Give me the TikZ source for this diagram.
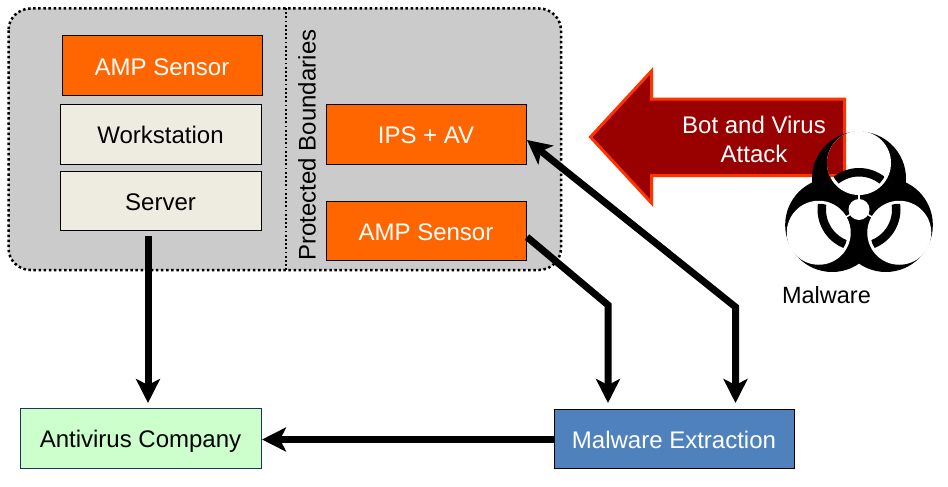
\documentclass[tikz,border=0pt]{standalone}
\usepackage{fontspec}
\setmainfont{Liberation Sans}
\usetikzlibrary{arrows.meta}
\definecolor{zonegray}{HTML}{CBCBCB}
\definecolor{ampfill}{HTML}{FF6600}
\definecolor{hostfill}{HTML}{EEECE1}
\definecolor{vendorfill}{HTML}{CCFFCC}
\definecolor{vendorline}{HTML}{17375E}
\definecolor{extractfill}{HTML}{4F81BD}
\definecolor{attackfill}{HTML}{990000}
\definecolor{attackline}{HTML}{FF3300}
\newcommand{\attackpath}{(590.5,137) -- (651.5,71) -- (651.5,99) -- (844.5,99) -- (844.5,175.5) -- (651.5,175.5) -- (651.5,203) -- cycle}
\tikzset{
	box/.style={draw=black, line width=1pt, minimum width=200pt, minimum height=59pt, inner sep=0pt, text height=21pt, text depth=2pt, font=\fontsize{24}{26}\selectfont},
	ampbox/.style={box, fill=ampfill, text=white},
	hostbox/.style={box, fill=hostfill, text=black},
	flow/.style={line width=7pt, -{Stealth[length=24pt, width=24pt, inset=6pt]}, line join=miter},
	flowboth/.style={line width=7pt, {Stealth[length=24pt, width=24pt, inset=6pt]}-{Stealth[length=24pt, width=24pt, inset=6pt]}, line join=miter},
	plain/.style={inner sep=0pt, font=\fontsize{24}{26}\selectfont},
}
\begin{document}
\begin{tikzpicture}[x=1pt, y=-1pt]
	\useasboundingbox (0,0) rectangle (948,487);
	% protected zone
	\path[fill=zonegray, rounded corners=22pt] (8.5,8.5) rectangle (561,270);
	\draw[line width=2.5pt, dash pattern=on 2.5pt off 2.6pt, rounded corners=22pt] (8.5,8.5) rectangle (561,270);
	\coordinate (divtop) at (286,8);
	\coordinate (divbot) at (286,270);
	\draw[line width=1.8pt, dash pattern=on 1.8pt off 2.4pt] (divtop) -- (divbot);
	\node[plain, rotate=90] (zone) at (307,145) {Protected Boundaries};

	\node[ampbox] (amp1) at (162,65.5) {AMP Sensor};
	\node[hostbox, minimum width=201pt, minimum height=60pt] (work) at (160.5,134) {Workstation};
	\node[hostbox, minimum width=201pt] (serv) at (160.5,200.5) {Server};
	\node[ampbox, minimum height=60pt] (ips) at (426,134) {IPS + AV};
	\node[ampbox] (amp2) at (426,230.5) {AMP Sensor};
	\node[box, minimum width=241pt, minimum height=60pt, fill=vendorfill, draw=vendorline] (vendor) at (140.5,438) {Antivirus Company};
	\node[box, minimum width=240pt, fill=extractfill, text=white] (extract) at (674,438.5) {Malware Extraction};

	% attack arrow
	\draw[fill=attackfill, draw=attackline, line width=3pt, miter limit=10] \attackpath;

	% biohazard sign
	\coordinate (bio) at (859,209.5);
	\foreach \a in {90,210,330}
		\fill[black] (bio) ++(-\a:31) circle (47pt);
	\foreach \a in {90,210,330}
		\fill[white] (bio) ++(-\a:46.5) circle (32pt);
	\begin{scope}
		\clip (bio) ++(-90:46.5) circle (32pt);
		\draw[fill=attackfill, draw=attackline, line width=3pt, miter limit=10] \attackpath;
	\end{scope}
	\foreach \a in {90,210,330} {
		\begin{scope}
			\clip (bio) ++(-\a:46.5) circle (29pt);
			\fill[black, even odd rule] (bio) circle (41.5pt) (bio) circle (33pt);
		\end{scope}
	}
	\foreach \a in {90,210,330}
		\draw[white, line width=1.5pt] (bio) -- ++(-\a:16);
	\fill[white] (bio) circle (10.5pt);

	\node[plain, text=white, align=center, font=\fontsize{24}{29}\selectfont] (attack) at (754,139) {Bot and Virus\\Attack};
	\node[plain, font=\fontsize{23.5}{26}\selectfont] (malware) at (826.5,295) {Malware};

	% connectors
	\coordinate (servout) at (148,236);
	\coordinate (vendorin) at (148,403);
	\coordinate (ampout) at (527,237);
	\coordinate (ampbend) at (608,305);
	\coordinate (extractin1) at (608,403);
	\coordinate (ipsin) at (527,140);
	\coordinate (ipsbend) at (735.5,307);
	\coordinate (extractin2) at (735.5,403);
	\coordinate (vendorend) at (262,439.5);

	\draw[flow] (servout) -- (vendorin);
	\draw[flow] (ampout) -- (ampbend) -- (extractin1);
	\draw[flowboth] (ipsin) -- (ipsbend) -- (extractin2);
	\draw[flow] (extract.west |- vendorend) -- (vendorend);
\end{tikzpicture}
\end{document}
